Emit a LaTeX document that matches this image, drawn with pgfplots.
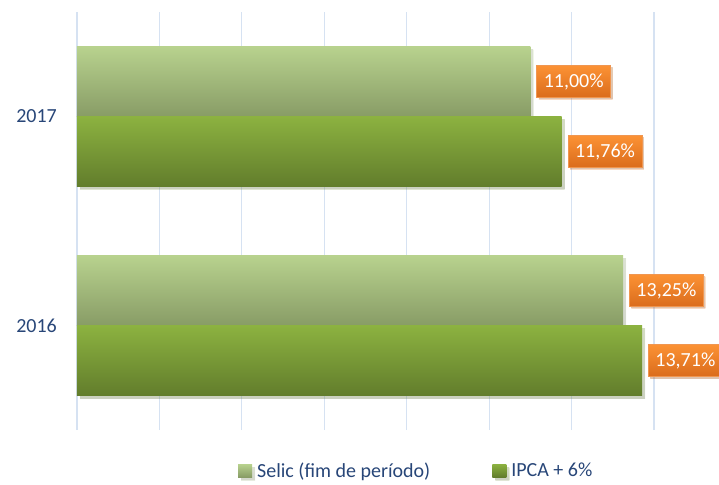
\documentclass[border=0pt]{standalone}
\usepackage{pgfplots}
\pgfplotsset{compat=1.18}
\usetikzlibrary{shadows}
\usepackage{fontspec}
\setmainfont{Carlito}
\definecolor{tickblue}{RGB}{40,70,120}
\definecolor{gridblue}{RGB}{214,226,242}
\definecolor{selictop}{RGB}{184,210,142}
\definecolor{selicbot}{RGB}{136,156,102}
\definecolor{ipcatop}{RGB}{140,178,64}
\definecolor{ipcabot}{RGB}{98,125,44}
\definecolor{orgtop}{RGB}{252,146,52}
\definecolor{orgbot}{RGB}{218,108,28}
\definecolor{orgedge}{RGB}{240,150,80}
\begin{document}
\begin{tikzpicture}
\useasboundingbox (-77pt,-54pt) rectangle (642pt,430pt);
\begin{axis}[
  at={(0pt,0pt)}, anchor=south west,
  scale only axis,
  width=577pt, height=418pt,
  xmin=0, xmax=14,
  ymin=-0.5, ymax=1.5,
  xtick={0,2,...,14},
  xticklabels={},
  ytick={0,1},
  yticklabels={2016,2017},
  major tick length=0pt,
  axis line style={draw=none},
  xmajorgrids,
  grid style={gridblue, line width=1.2pt},
  yticklabel style={font=\fontsize{20}{24}\selectfont, text=tickblue, inner xsep=0pt, xshift=-20pt},
  /pgf/number format/assume math mode=true,
  clip=false,
  xbar,
  bar width=70pt,
  point meta=x,
  nodes near coords={\pgfmathprintnumber[fixed, fixed zerofill, precision=2, use comma]{\pgfplotspointmeta}\%},
  every node near coord/.append style={
    font=\fontsize{20}{24}\selectfont, text=white,
    top color=orgtop, bottom color=orgbot, draw=orgedge, line width=0.8pt,
    drop shadow={shadow xshift=2pt, shadow yshift=-2pt, opacity=0.25},
    inner xsep=7pt, inner ysep=0pt, minimum height=32pt,
    anchor=west, xshift=6pt},
  legend columns=2,
  legend style={draw=none, fill=none, at={(0.279,-0.097)}, anchor=west,
    font=\fontsize{20}{24}\selectfont, text=tickblue,
    /tikz/every even column/.append style={column sep=60pt},
    /tikz/every odd column/.append style={column sep=3pt},
    inner sep=0pt},
  selic/.style={bar shift=35pt, draw=none, top color=selictop, bottom color=selicbot,
    drop shadow={shadow xshift=3pt, shadow yshift=-3pt, opacity=0.2}},
  ipca/.style={bar shift=-35pt, draw=none, top color=ipcatop, bottom color=ipcabot,
    drop shadow={shadow xshift=3pt, shadow yshift=-3pt, opacity=0.2}},
]
\addplot[selic,
  legend image code/.code={\shade[top color=selictop, bottom color=selicbot] (0pt,-6.5pt) rectangle (14pt,6.5pt);}]
  coordinates {(13.25,0)};
\addplot[ipca,
  legend image code/.code={\shade[top color=ipcatop, bottom color=ipcabot] (0pt,-6.5pt) rectangle (14pt,6.5pt);}]
  coordinates {(13.71,0)};
\addplot[selic, forget plot] coordinates {(11.00,1)};
\addplot[ipca, forget plot] coordinates {(11.76,1)};
\legend{Selic (fim de período), IPCA + 6\%}
\end{axis}
\end{tikzpicture}
\end{document}
